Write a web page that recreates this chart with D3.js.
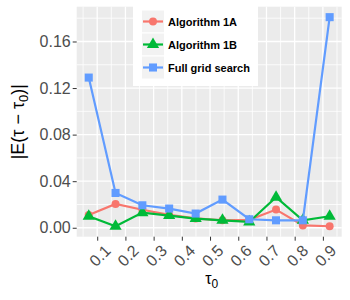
<!DOCTYPE html>
<html>
<head>
<meta charset="utf-8">
<script src="https://d3js.org/d3.v7.min.js"></script>
<style>
  body { margin: 0; background: #fff; }
  text { font-family: "Liberation Sans", Arial, sans-serif; }
</style>
</head>
<body>
<div id="chart"></div>
<script>
// data
var tau = [0.070, 0.165, 0.260, 0.355, 0.449, 0.544, 0.639, 0.734, 0.829, 0.924];
var alg1A = [0.0110, 0.0205, 0.0155, 0.0110, 0.0080, 0.0064, 0.0068, 0.0156, 0.0020, 0.0013];
var alg1B = [0.0099, 0.0013, 0.0130, 0.0105, 0.0079, 0.0064, 0.0050, 0.0262, 0.0064, 0.0099];
var fullGrid = [0.1290, 0.0299, 0.0193, 0.0165, 0.0122, 0.0242, 0.0073, 0.0064, 0.0064, 0.1809];
var seriesNames = ["Algorithm 1A", "Algorithm 1B", "Full grid search"];
var xTicks = [0.1, 0.2, 0.3, 0.4, 0.5, 0.6, 0.7, 0.8, 0.9];
var yTicks = [0, 0.04, 0.08, 0.12, 0.16];

var colors = ["#F8766D", "#00BA38", "#619CFF"];
var shapes = [d3.symbolCircle, d3.symbolTriangle, d3.symbolSquare];
var allSeries = [alg1A, alg1B, fullGrid];

var width = 350, height = 300;
var panel = {left: 76.7, right: 341.7, top: 6.7, bottom: 236.7};

var svg = d3.select("#chart").append("svg")
  .attr("width", width).attr("height", height);

// ggplot style 5% expansion
var xr = d3.extent(tau), xe = (xr[1] - xr[0]) * 0.05;
var allY = alg1A.concat(alg1B, fullGrid);
var yr = d3.extent(allY), ye = (yr[1] - yr[0]) * 0.05;

var x = d3.scaleLinear().domain([xr[0] - xe, xr[1] + xe]).range([panel.left, panel.right]);
var y = d3.scaleLinear().domain([yr[0] - ye, yr[1] + ye]).range([panel.bottom, panel.top]);

svg.append("rect")
  .attr("x", panel.left).attr("y", panel.top)
  .attr("width", panel.right - panel.left).attr("height", panel.bottom - panel.top)
  .attr("fill", "#EBEBEB");

// minor grid
var xMinor = [0.05, 0.15, 0.25, 0.35, 0.45, 0.55, 0.65, 0.75, 0.85, 0.95];
var yMinor = [0.02, 0.06, 0.10, 0.14, 0.18];
var g = svg.append("g");
g.selectAll(".xmin").data(xMinor).enter().append("line")
  .attr("x1", d => x(d)).attr("x2", d => x(d))
  .attr("y1", panel.top).attr("y2", panel.bottom)
  .attr("stroke", "#fff").attr("stroke-width", 0.8);
g.selectAll(".ymin").data(yMinor).enter().append("line")
  .attr("y1", d => y(d)).attr("y2", d => y(d))
  .attr("x1", panel.left).attr("x2", panel.right)
  .attr("stroke", "#fff").attr("stroke-width", 0.8);
g.selectAll(".xmaj").data(xTicks).enter().append("line")
  .attr("x1", d => x(d)).attr("x2", d => x(d))
  .attr("y1", panel.top).attr("y2", panel.bottom)
  .attr("stroke", "#fff").attr("stroke-width", 1.3);
g.selectAll(".ymaj").data(yTicks).enter().append("line")
  .attr("y1", d => y(d)).attr("y2", d => y(d))
  .attr("x1", panel.left).attr("x2", panel.right)
  .attr("stroke", "#fff").attr("stroke-width", 1.3);

// axes
var yAxis = svg.append("g")
  .attr("transform", "translate(" + panel.left + ",0)")
  .call(d3.axisLeft(y).tickValues(yTicks).tickFormat(d3.format(".2f")).tickSize(4).tickPadding(2));
yAxis.select(".domain").remove();
yAxis.selectAll("line").attr("stroke", "#333");
yAxis.selectAll("text").attr("fill", "#4D4D4D").style("font-size", "16px")
  .style("font-family", "Liberation Sans, Arial, sans-serif");

var xAxis = svg.append("g")
  .attr("transform", "translate(0," + panel.bottom + ")")
  .call(d3.axisBottom(x).tickValues(xTicks).tickFormat(d3.format(".1f")).tickSize(4));
xAxis.select(".domain").remove();
xAxis.selectAll("line").attr("stroke", "#333");
xAxis.selectAll("text")
  .attr("fill", "#4D4D4D").style("font-size", "16px")
  .style("font-family", "Liberation Sans, Arial, sans-serif")
  .attr("text-anchor", "end")
  .attr("dy", null)
  .attr("y", 0)
  .attr("transform", "translate(14,15) rotate(-45)");

// axis titles
var yt = svg.append("text")
  .attr("transform", "translate(24," + ((panel.top + panel.bottom) / 2) + ") rotate(-90)")
  .attr("text-anchor", "middle")
  .attr("fill", "#000")
  .style("font-size", "18px");
yt.append("tspan").text("|E(\u03C4 \u2212 \u03C4");
yt.append("tspan").attr("dy", 4).style("font-size", "13px").text("0");
yt.append("tspan").attr("dy", -4).text(")|");

var xt = svg.append("text")
  .attr("x", (panel.left + panel.right) / 2 - 4).attr("y", 284)
  .attr("fill", "#000").style("font-size", "16px");
xt.append("tspan").text("\u03C4");
xt.append("tspan").attr("dy", 4).style("font-size", "12px").text("0");

// lines and points
var line = d3.line().x((d, i) => x(tau[i])).y(d => y(d));
allSeries.forEach(function(s, k) {
  svg.append("path").datum(s)
    .attr("d", line)
    .attr("fill", "none")
    .attr("stroke", colors[k])
    .attr("stroke-width", 2.2);
  svg.selectAll(".pt" + k).data(s).enter().append("path")
    .attr("transform", (d, i) => "translate(" + x(tau[i]) + "," + y(d) + ")")
    .attr("d", d3.symbol().type(shapes[k]).size(k == 0 ? 50 : 65))
    .attr("fill", colors[k]);
});

// legend
var lg = svg.append("g");
lg.append("rect")
  .attr("x", 133).attr("y", 4).attr("width", 125).attr("height", 82)
  .attr("fill", "#fff");
var keyH = 23;
seriesNames.forEach(function(name, k) {
  var ky = 10 + k * keyH;
  lg.append("rect")
    .attr("x", 141.5).attr("y", ky).attr("width", 23).attr("height", keyH)
    .attr("fill", "#F2F2F2").attr("stroke", "#fff");
  lg.append("line")
    .attr("x1", 143).attr("x2", 163).attr("y1", ky + keyH / 2).attr("y2", ky + keyH / 2)
    .attr("stroke", colors[k]).attr("stroke-width", 2.2);
  lg.append("path")
    .attr("transform", "translate(153," + (ky + keyH / 2) + ")")
    .attr("d", d3.symbol().type(shapes[k]).size(k == 0 ? 50 : 65))
    .attr("fill", colors[k]);
  lg.append("text")
    .attr("x", 168).attr("y", ky + keyH / 2 + 4)
    .style("font-size", "11px").style("font-weight", "bold")
    .attr("fill", "#000")
    .text(name);
});
</script>
</body>
</html>
